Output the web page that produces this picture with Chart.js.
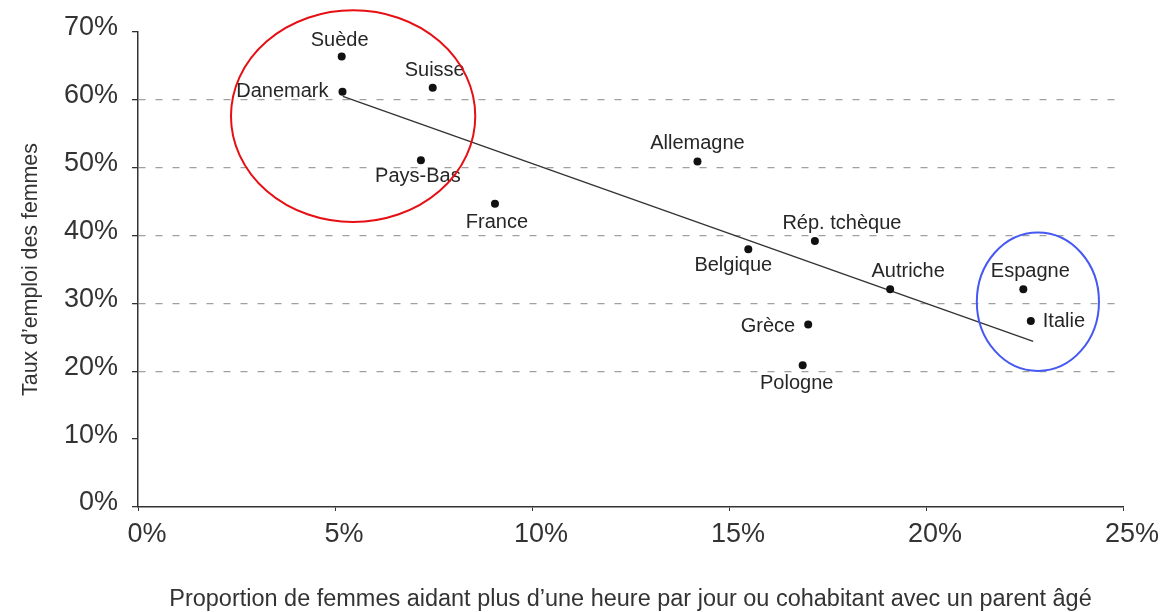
<!DOCTYPE html>
<html><head><meta charset="utf-8">
<script src="https://cdn.jsdelivr.net/npm/chart.js@4.4.0/dist/chart.umd.min.js"></script>
<style>html,body{margin:0;padding:0;background:#fff;} #wrap{width:1162px;height:612px;position:relative;}</style>
</head><body><div id="wrap"><canvas id="c" width="1162" height="612"></canvas></div>
<script>
// ---- data ----
const countries = ['Suède','Danemark','Suisse','Pays-Bas','France','Allemagne','Belgique','Rép. tchèque','Autriche','Grèce','Pologne','Espagne','Italie'];
const aidShare = [5.17, 5.19, 7.48, 7.18, 9.06, 14.2, 15.49, 17.18, 19.09, 17.01, 16.87, 22.47, 22.66];
const employmentRate = [66.4, 61.2, 61.8, 51.1, 44.7, 50.9, 38.0, 39.2, 32.1, 26.9, 20.9, 32.1, 27.4];
const trendX = [5.2, 22.72];
const trendY = [60.5, 24.4];
const xTickValues = [0, 5, 10, 15, 20, 25];
const yTickValues = [0, 10, 20, 30, 40, 50, 60, 70];
const gridValues = [20, 30, 40, 50, 60];
const xTitle = "Proportion de femmes aidant plus d\u2019une heure par jour ou cohabitant avec un parent âgé";
const yTitle = "Taux d\u2019emploi des femmes";

// ---- styles (label placement relative to each point, in px) ----
const labelPlacement = [
  {dx:-2, by:-10, align:'center'}, // Suède
  {dx:-14, by:5, align:'right'},   // Danemark
  {dx:2, by:-12, align:'center'},  // Suisse
  {dx:-3, by:22, align:'center'},  // Pays-Bas
  {dx:2, by:24, align:'center'},   // France
  {dx:0, by:-13, align:'center'},  // Allemagne
  {dx:-15, by:22, align:'center'}, // Belgique
  {dx:27, by:-12, align:'center'}, // Rép. tchèque
  {dx:18, by:-12, align:'center'}, // Autriche
  {dx:-13, by:8, align:'right'},   // Grèce
  {dx:-6, by:24, align:'center'},  // Pologne
  {dx:7, by:-12, align:'center'},  // Espagne
  {dx:12, by:6, align:'left'}      // Italie
];
const highlightEllipses = [
  {cx:5.46, cy:57.6, rx:3.10, ry:15.6, color:'#e60f14'},
  {cx:22.84, cy:30.26, rx:1.55, ry:10.2, color:'#4658f2'}
];

const FAMILY = "'Liberation Sans', Arial, sans-serif";
function fitSize(text, target){
  const c = document.createElement('canvas').getContext('2d');
  c.font = "100px " + FAMILY;
  return 100 * target / c.measureText(text).width;
}
const xTitleSize = fitSize(xTitle, 923);
const yTitleSize = fitSize(yTitle, 253);

const pointLabels = {
  id:'pointLabels',
  afterDatasetsDraw(chart){
    const ctx = chart.ctx;
    const meta = chart.getDatasetMeta(0);
    ctx.save();
    ctx.font = "20px " + FAMILY;
    ctx.fillStyle = '#262626';
    ctx.textBaseline = 'alphabetic';
    meta.data.forEach((pt, i) => {
      const p = labelPlacement[i];
      ctx.textAlign = p.align;
      ctx.fillText(countries[i], pt.x + p.dx, pt.y + p.by);
    });
    ctx.restore();
  }
};
const ellipses = {
  id:'ellipses',
  afterDraw(chart){
    const {ctx, scales:{x, y}} = chart;
    ctx.save();
    highlightEllipses.forEach(e => {
      const cx = x.getPixelForValue(e.cx), cy = y.getPixelForValue(e.cy);
      const rx = Math.abs(x.getPixelForValue(e.cx + e.rx) - cx);
      const ry = Math.abs(y.getPixelForValue(e.cy + e.ry) - cy);
      ctx.beginPath();
      ctx.ellipse(cx, cy, rx, ry, 0, 0, Math.PI*2);
      ctx.strokeStyle = e.color;
      ctx.lineWidth = 2;
      ctx.stroke();
    });
    ctx.restore();
  }
};

new Chart(document.getElementById('c'), {
  type:'scatter',
  data:{
    datasets:[
      {label:'Pays', data: aidShare.map((v,i)=>({x:v, y:employmentRate[i]})),
       pointRadius:4, pointHoverRadius:4, backgroundColor:'#111', borderColor:'#111', borderWidth:0},
      {label:'Tendance', type:'line', data: trendX.map((v,i)=>({x:v, y:trendY[i]})),
       borderColor:'#333', borderWidth:1.4, pointRadius:0, fill:false, tension:0}
    ]
  },
  options:{
    responsive:false, animation:false, devicePixelRatio:1,
    layout:{padding:{top:32, right:39, left:0, bottom:0}},
    plugins:{legend:{display:false}, tooltip:{enabled:false}},
    scales:{
      x:{
        type:'linear', min:0, max:25,
        afterBuildTicks(s){ s.ticks = xTickValues.map(v=>({value:v})); },
        afterFit(s){ s.height = 105; },
        ticks:{callback:v=>v+'%', font:{family:FAMILY, size:27}, color:'#333', padding:7, labelOffset:9, maxRotation:0},
        grid:{drawOnChartArea:false, drawTicks:true, tickLength:4, tickColor:'#333', tickBorderDash:[]},
        border:{display:true, color:'#333', width:1.5},
        title:{display:true, text:xTitle, color:'#333', font:{family:FAMILY, size:xTitleSize, lineHeight:1.0}, padding:{top:0, bottom:1}}
      },
      y:{
        type:'linear', min:0, max:70,
        afterBuildTicks(s){ s.ticks = yTickValues.map(v=>({value:v})); },
        afterFit(s){ s.width = 138; },
        ticks:{callback:v=>v+'%', font:{family:FAMILY, size:27}, color:'#333', padding:14, labelOffset:-4},
        grid:{
          color:c => gridValues.includes(c.tick && c.tick.value) ? '#a0a0a0' : 'rgba(0,0,0,0)',
          lineWidth:1.3, drawTicks:true, tickLength:6, tickColor:'#333', tickWidth:1.3, tickBorderDash:[]
        },
        border:{display:true, color:'#333', width:1.5, dash:[7,10]},
        title:{display:true, text:yTitle, color:'#333', font:{family:FAMILY, size:yTitleSize, lineHeight:1.2}, padding:{top:18, bottom:0}}
      }
    }
  },
  plugins:[pointLabels, ellipses]
});
</script>
</body></html>
